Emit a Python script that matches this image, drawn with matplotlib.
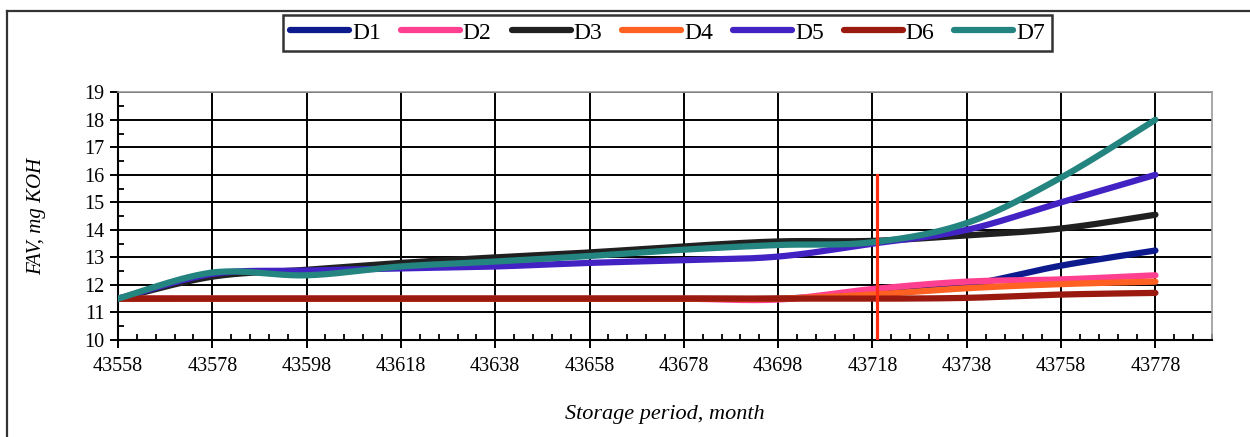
import numpy as np
import matplotlib
matplotlib.use('Agg')
import matplotlib.pyplot as plt
from matplotlib.lines import Line2D

# storage days (Excel serial dates) and FAV readings for each sample
days = [43558, 43578, 43598, 43618, 43638, 43658, 43678, 43698, 43718, 43738, 43758, 43778]
d1 = [11.5, 11.5, 11.5, 11.5, 11.5, 11.5, 11.5, 11.5, 11.7, 12.0, 12.7, 13.25]
d2 = [11.5, 11.5, 11.5, 11.5, 11.5, 11.5, 11.5, 11.47, 11.85, 12.12, 12.2, 12.35]
d3 = [11.5, 12.3, 12.55, 12.8, 13.0, 13.18, 13.4, 13.58, 13.6, 13.8, 14.05, 14.55]
d4 = [11.5, 11.5, 11.5, 11.5, 11.5, 11.5, 11.5, 11.5, 11.65, 11.88, 12.03, 12.12]
d5 = [11.5, 12.4, 12.52, 12.6, 12.67, 12.8, 12.9, 13.03, 13.5, 14.0, 15.0, 16.0]
d6 = [11.5, 11.5, 11.5, 11.5, 11.5, 11.5, 11.5, 11.5, 11.5, 11.53, 11.65, 11.71]
d7 = [11.5, 12.45, 12.35, 12.67, 12.85, 13.05, 13.28, 13.45, 13.55, 14.25, 15.9, 18.0]

series = [('D1', d1, '#0d1a8e'), ('D2', d2, '#ff3f8f'), ('D3', d3, '#202020'),
          ('D4', d4, '#ff6122'), ('D5', d5, '#4322c4'), ('D6', d6, '#9b1a0f'),
          ('D7', d7, '#24847f')]

cut_day = 43719


def smooth(x, y, n=40):
    # Catmull-Rom curve through the points, like Excel's smoothed lines
    p = np.column_stack([x, y]).astype(float)
    p = np.vstack([p[0], p, p[-1]])
    t = np.linspace(0, 1, n)[:, None]
    out = []
    for i in range(1, len(p) - 2):
        p0, p1, p2, p3 = p[i - 1], p[i], p[i + 1], p[i + 2]
        c = 0.5 * ((2 * p1) + (-p0 + p2) * t + (2 * p0 - 5 * p1 + 4 * p2 - p3) * t ** 2
                   + (-p0 + 3 * p1 - 3 * p2 + p3) * t ** 3)
        out.append(c if i == 1 else c[1:])
    c = np.vstack(out)
    return c[:, 0], c[:, 1]


plt.rcParams['font.family'] = ['Liberation Serif', 'DejaVu Serif']

fig = plt.figure(figsize=(12.5, 4.37), dpi=100)
ax = fig.add_axes([0.0944, 0.222, 0.8752, 0.567])

ax.set_xlim(43558, 43790)
ax.set_ylim(10, 19)
ax.set_xticks(days)
ax.set_xticks(np.arange(43558, 43791, 4), minor=True)
ax.set_yticks(np.arange(10, 20, 1))
ax.set_yticks(np.arange(10.5, 19, 1), minor=True)
ax.grid(True, which='major', color='black', linewidth=1.4)
ax.set_axisbelow(True)

ax.tick_params(axis='both', which='major', direction='out', length=6, width=1.4,
               labelsize=14.5, color='black')
ax.tick_params(axis='both', which='minor', direction='in', length=4, width=1.3)
ax.tick_params(axis='x', which='major', pad=6)

for side in ['left', 'bottom']:
    ax.spines[side].set_color('black')
    ax.spines[side].set_linewidth(1.5)
for side in ['top', 'right']:
    ax.spines[side].set_color('#9a9a9a')
    ax.spines[side].set_linewidth(1.2)

handles = []
for name, vals, col in series:
    sx, sy = smooth(days, vals)
    line, = ax.plot(sx, sy, color=col, linewidth=4.5, solid_capstyle='round',
                    label=name, zorder=3)
    handles.append(line)

ax.plot([cut_day, cut_day], [10, 16], color='#ff2d12', linewidth=2.3, zorder=4)

ax.set_ylabel('FAV, mg KOH', fontsize=15, style='italic')
ax.yaxis.set_label_coords(-0.066, 0.5)
ax.set_xlabel('Storage period, month', fontsize=16, style='italic')
ax.xaxis.set_label_coords(0.5, -0.262)

leg = fig.legend(handles=handles, ncol=7, loc='center', bbox_to_anchor=(0.534, 0.925),
                 fontsize=17, frameon=True, fancybox=False, edgecolor='black',
                 handlelength=2.5, handletextpad=0.12, columnspacing=0.85,
                 borderpad=0.3)
leg.get_frame().set_linewidth(1.8)

# outer chart-area border
fig.add_artist(Line2D([0.0056, 0.0056], [0.0, 0.975], color='#333333', linewidth=1.6))
fig.add_artist(Line2D([0.0056, 1.0], [0.975, 0.975], color='#333333', linewidth=1.6))

fig.savefig('out.png', dpi=100)
